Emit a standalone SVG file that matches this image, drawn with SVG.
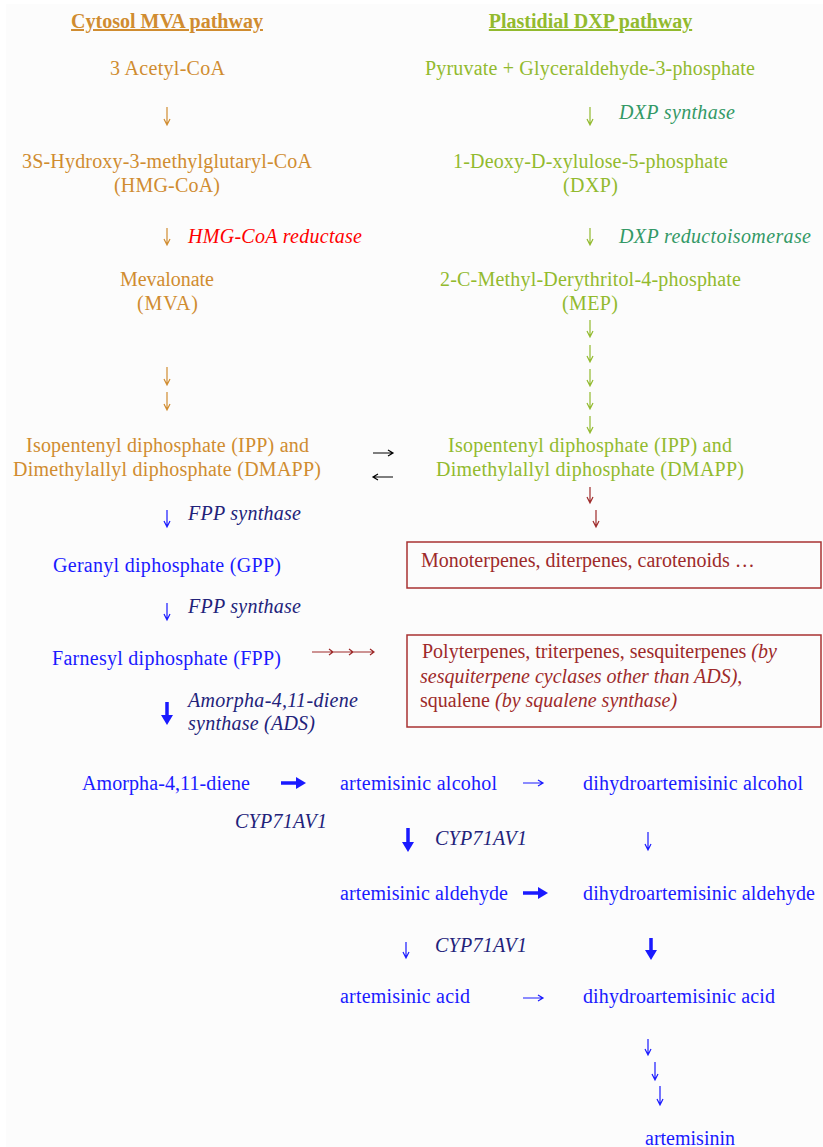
<svg xmlns="http://www.w3.org/2000/svg" width="823" height="1147" viewBox="0 0 823 1147">
<style>
text{font-family:"Liberation Serif","Times New Roman",serif;font-size:20px}
.c{text-anchor:middle}
.it{font-style:italic}
.hd{font-weight:bold;text-decoration:underline}
.or{fill:#D08C30}.gr{fill:#92BA2E}.tl{fill:#339966}.rd{fill:#FF0000}
.bl{fill:#1A1AFF}.nv{fill:#22227A}.dr{fill:#9E2A2A}
.a{fill:none;stroke-width:1.2}
.b{fill:none;stroke-width:3.5}
.so{stroke:#D08C30}.sg{stroke:#92BA2E}.sb{stroke:#1A1AFF}.sd{stroke:#9E2A2A}.sk{stroke:#000}
.hb{fill:#1A1AFF}
.box{fill:none;stroke:#A83232;stroke-width:1.5}
</style>
<rect x="0" y="0" width="823" height="1147" fill="#fff"/>
<rect x="6" y="4" width="817" height="1143" fill="#fcfcfc"/>

<g id="headers">
<text class="c hd or" x="167" y="28">Cytosol MVA pathway</text>
<text class="c hd gr" x="590.5" y="28">Plastidial DXP pathway</text>
</g>

<g id="acetylcoa"><text class="c or" x="167.5" y="75" textLength="115">3 Acetyl-CoA</text></g>
<g id="hmgcoa">
<text class="c or" x="167" y="168" textLength="290">3S-Hydroxy-3-methylglutaryl-CoA</text>
<text class="c or" x="167" y="192" textLength="106">(HMG-CoA)</text>
</g>
<g id="hmgr"><text class="it rd" x="188" y="243" textLength="174">HMG-CoA reductase</text></g>
<g id="mva">
<text class="c or" x="167" y="286" textLength="94">Mevalonate</text>
<text class="c or" x="167.5" y="310" textLength="61">(MVA)</text>
</g>
<g id="ipp-cyt">
<text class="c or" x="167.5" y="452" textLength="283">Isopentenyl diphosphate (IPP) and</text>
<text class="c or" x="167" y="476" textLength="308">Dimethylallyl diphosphate (DMAPP)</text>
</g>

<g id="pyruvate"><text class="c gr" x="590" y="75" textLength="330">Pyruvate + Glyceraldehyde-3-phosphate</text></g>
<g id="dxps"><text class="it tl" x="619" y="119" textLength="116">DXP synthase</text></g>
<g id="dxp">
<text class="c gr" x="590.5" y="168" textLength="275">1-Deoxy-D-xylulose-5-phosphate</text>
<text class="c gr" x="590.5" y="192" textLength="55">(DXP)</text>
</g>
<g id="dxr"><text class="it tl" x="619" y="243" textLength="192">DXP reductoisomerase</text></g>
<g id="mep">
<text class="c gr" x="590.5" y="286" textLength="301">2-C-Methyl-Derythritol-4-phosphate</text>
<text class="c gr" x="590" y="310" textLength="56">(MEP)</text>
</g>
<g id="ipp-pla">
<text class="c gr" x="590" y="452" textLength="284">Isopentenyl diphosphate (IPP) and</text>
<text class="c gr" x="590" y="476" textLength="308">Dimethylallyl diphosphate (DMAPP)</text>
</g>

<g id="fpps1"><text class="it nv" x="188" y="520" textLength="113">FPP synthase</text></g>
<g id="gpp"><text class="c bl" x="167" y="572" textLength="228">Geranyl diphosphate (GPP)</text></g>
<g id="fpps2"><text class="it nv" x="188" y="613" textLength="113">FPP synthase</text></g>
<g id="fpp"><text class="c bl" x="166.5" y="665" textLength="229">Farnesyl diphosphate (FPP)</text></g>
<g id="ads">
<text class="it nv" x="188" y="707" textLength="170">Amorpha-4,11-diene</text>
<text class="it nv" x="188" y="730" textLength="127">synthase (ADS)</text>
</g>

<g id="mono">
<rect class="box" x="407" y="542" width="414" height="46"/>
<text class="dr" x="421" y="567">Monoterpenes, diterpenes, carotenoids …</text>
</g>
<g id="poly">
<rect class="box" x="407" y="635" width="414" height="92"/>
<text class="dr" x="422" y="658">Polyterpenes, triterpenes, sesquiterpenes <tspan class="it">(by</tspan></text>
<text class="dr it" x="420" y="683">sesquiterpene cyclases other than ADS)<tspan font-style="normal">,</tspan></text>
<text class="dr" x="420" y="707">squalene <tspan class="it">(by squalene synthase)</tspan></text>
</g>

<g id="amorphadiene"><text class="bl" x="82" y="790" textLength="168">Amorpha-4,11-diene</text></g>
<g id="cyp1"><text class="it nv" x="235" y="828" textLength="92">CYP71AV1</text></g>
<g id="aalc"><text class="bl" x="340" y="790" textLength="157">artemisinic alcohol</text></g>
<g id="cyp2"><text class="it nv" x="435" y="845" textLength="92">CYP71AV1</text></g>
<g id="aald"><text class="bl" x="340" y="900" textLength="168">artemisinic aldehyde</text></g>
<g id="cyp3"><text class="it nv" x="435" y="952" textLength="92">CYP71AV1</text></g>
<g id="aacid"><text class="bl" x="340" y="1003" textLength="130">artemisinic acid</text></g>
<g id="dhalc"><text class="bl" x="583" y="790" textLength="220">dihydroartemisinic alcohol</text></g>
<g id="dhald"><text class="bl" x="583" y="900" textLength="232">dihydroartemisinic aldehyde</text></g>
<g id="dhacid"><text class="bl" x="583" y="1003" textLength="192">dihydroartemisinic acid</text></g>
<g id="artemisinin"><text class="bl" x="645" y="1145" textLength="90">artemisinin</text></g>

<g id="connectors">
<!-- orange -->
<path class="a so" d="M167,107V125M164,119L167,125L170,119"/>
<path class="a so" d="M167,228V245M164,239L167,245L170,239"/>
<path class="a so" d="M167,367V385M164,379L167,385L170,379"/>
<path class="a so" d="M167,392V410M164,404L167,410L170,404"/>
<!-- green -->
<path class="a sg" d="M590,107V125M587,119L590,125L593,119"/>
<path class="a sg" d="M590,228V245M587,239L590,245L593,239"/>
<path class="a sg" d="M590,320V337M587,331L590,337L593,331"/>
<path class="a sg" d="M590,345V362M587,356L590,362L593,356"/>
<path class="a sg" d="M590,369V386M587,380L590,386L593,380"/>
<path class="a sg" d="M590,392V409M587,403L590,409L593,403"/>
<path class="a sg" d="M590,416V433M587,427L590,433L593,427"/>
<!-- black exchange -->
<path class="a sk" d="M373,453H393M388,450L393,453L388,456"/>
<path class="a sk" d="M373,477H393M378,474L373,477L378,480"/>
<!-- dark red -->
<path class="a sd" d="M590,487V503M587,497L590,503L593,497"/>
<path class="a sd" d="M596,510V527M593,521L596,527L599,521"/>
<path class="a sd" d="M312,652H333M329,649L333,652L329,655M333,652H353M349,649L353,652L349,655M353,652H374M370,649L374,652L370,655"/>
<!-- blue thin -->
<path class="a sb" d="M167,510V527M164,521L167,527L170,521"/>
<path class="a sb" d="M167,603V620M164,614L167,620L170,614"/>
<path class="a sb" d="M523,783H543M538,780L543,783L538,786"/>
<path class="a sb" d="M648,832V850M645,844L648,850L651,844"/>
<path class="a sb" d="M406,942V958M403,952L406,958L409,952"/>
<path class="a sb" d="M523,998H543M538,995L543,998L538,1001"/>
<path class="a sb" d="M648,1039V1055M645,1049L648,1055L651,1049"/>
<path class="a sb" d="M655,1062V1080M652,1074L655,1080L658,1074"/>
<path class="a sb" d="M660,1086V1105M657,1099L660,1105L663,1099"/>
<!-- blue bold -->
<path class="b sb" d="M167,702V716"/><polygon class="hb" points="161,715 173,715 167,725"/>
<path class="b sb" d="M281,783H297"/><polygon class="hb" points="296,777 296,789 306,783"/>
<path class="b sb" d="M408,828V843"/><polygon class="hb" points="402,842 414,842 408,852"/>
<path class="b sb" d="M523,893H539"/><polygon class="hb" points="538,887 538,899 548,893"/>
<path class="b sb" d="M651,938V951"/><polygon class="hb" points="645,950 657,950 651,960"/>
</g>
</svg>
